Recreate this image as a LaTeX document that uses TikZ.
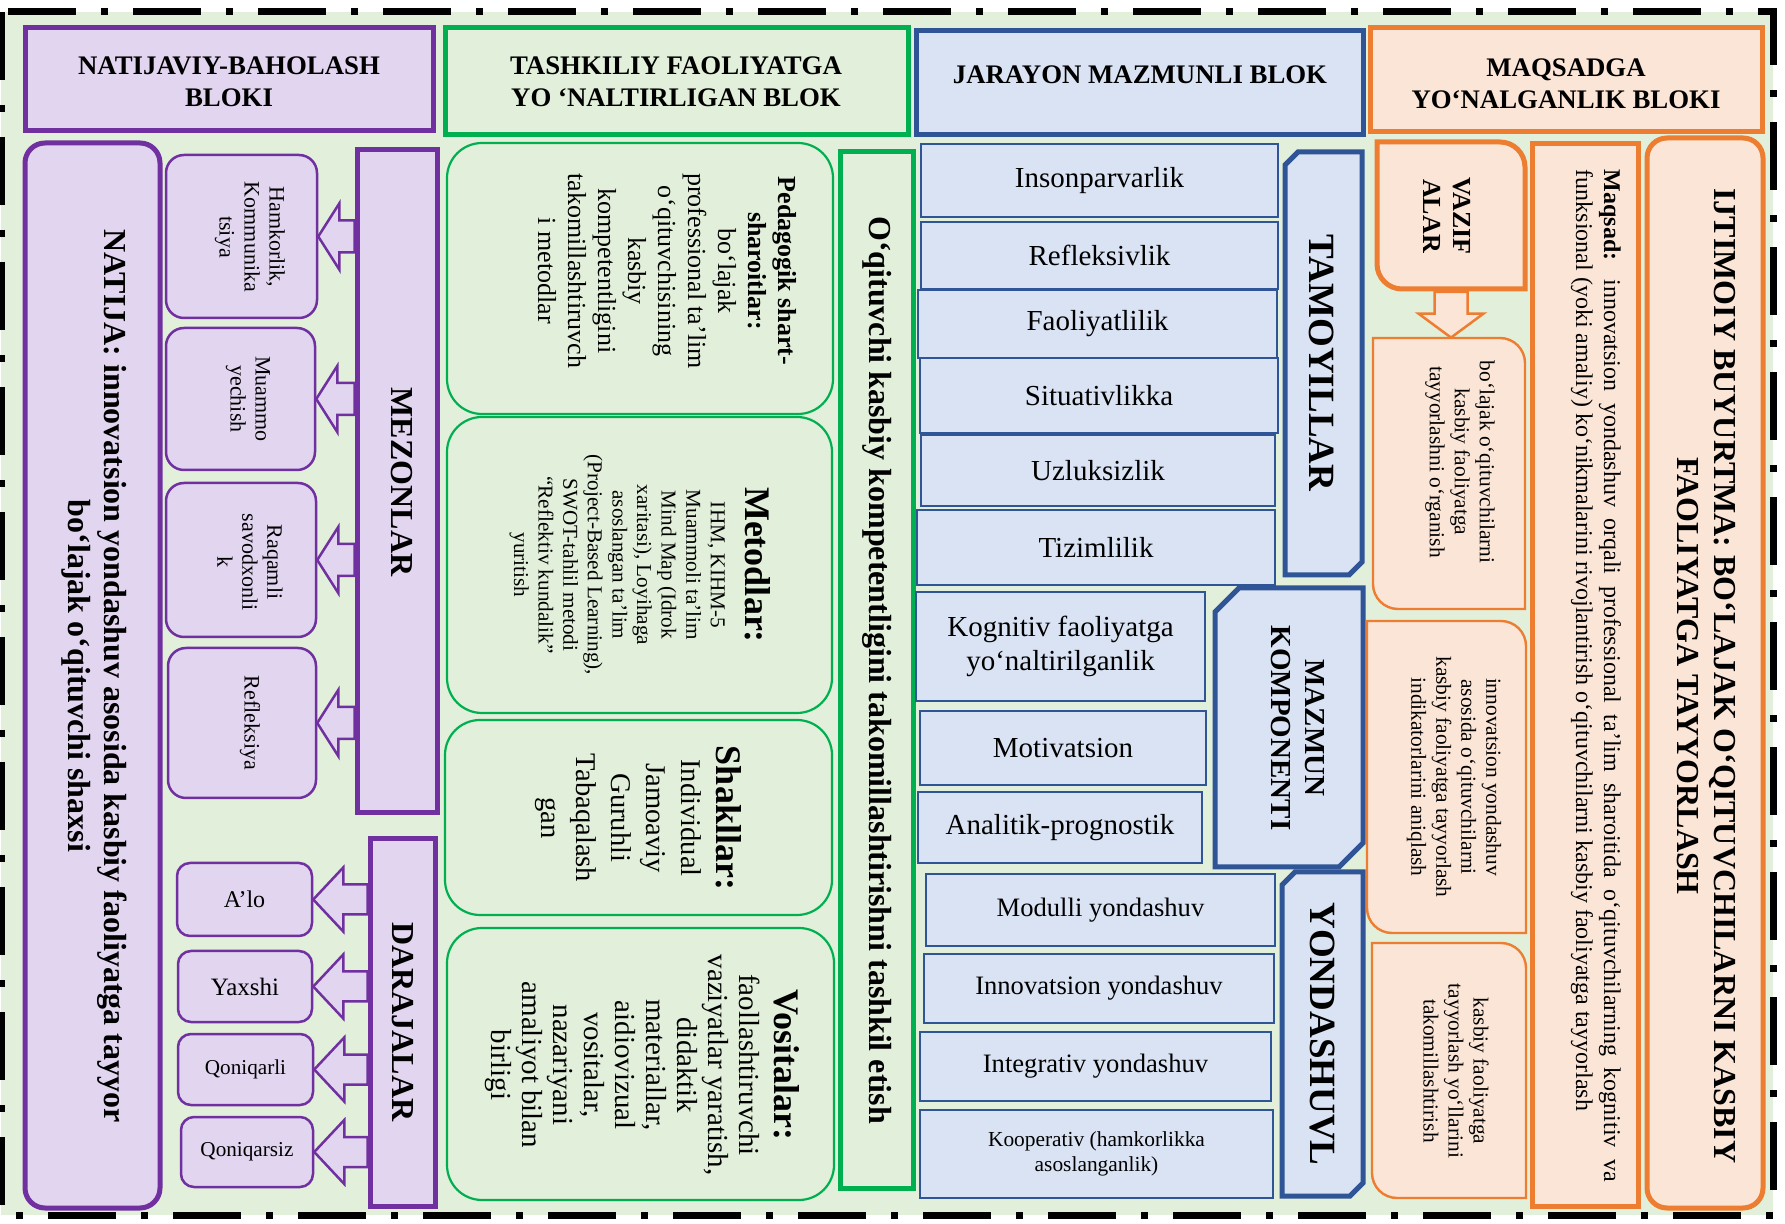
\documentclass[tikz,border=0pt]{standalone}
\usepackage{fontspec}
\setmainfont{Liberation Serif}
\usetikzlibrary{fit,calc}

\definecolor{bgg}{HTML}{E2EFDA}
\definecolor{purp}{HTML}{7030A0}
\definecolor{lav}{HTML}{E2D5F0}
\definecolor{grn}{HTML}{00B050}
\definecolor{blu}{HTML}{2F5597}
\definecolor{lblu}{HTML}{DAE3F3}
\definecolor{org}{HTML}{ED7D31}
\definecolor{peach}{HTML}{FBE5D6}

\newcommand\fs[2]{\fontsize{#1}{#2}\selectfont}

\tikzset{
  box/.style={inner sep=0pt},
  pthick/.style={box, draw=purp, fill=lav, line width=2.5pt},
  pthin/.style={box, draw=purp, fill=lav, line width=1.25pt, rounded corners=9pt},
  gthick/.style={box, draw=grn, line width=2.5pt},
  gthin/.style={box, draw=grn, line width=1.1pt, rounded corners=17.5pt},
  bthick/.style={box, draw=blu, fill=lblu, line width=2.5pt},
  bthin/.style={box, draw=blu, fill=lblu, line width=1.2pt},
  othick/.style={box, draw=org, fill=peach, line width=2.5pt},
  othin/.style={box, draw=org, fill=peach, line width=1.2pt},
  parrow/.style={draw=purp, fill=lav, line width=1.25pt},
  oarrow/.style={draw=org, fill=peach, line width=1.25pt},
  vtext/.style={rotate=-90, align=center, inner sep=0pt},
  htext/.style={align=center, inner sep=0pt},
}

% block arrow pointing left: from, to, head length, head half, shaft half
\newcommand\larrow[5]{%
  \filldraw[parrow] let \p1=(#1.west), \p2=(#2.east) in
    (\p2) -- (\x2+#3,\y2+#4) -- (\x2+#3,\y2+#5) -- (\x1,\y2+#5)
    -- (\x1,\y2-#5) -- (\x2+#3,\y2-#5) -- (\x2+#3,\y2-#4) -- cycle;}
% block arrow pointing down
\newcommand\darrow[2]{%
  \filldraw[oarrow] let \p1=(#1.south), \p2=(#2.north) in
    (\x1,\y2) -- (\x1-16.25pt,\y2+12pt) -- (\x1-8.25pt,\y2+12pt) -- (\x1-8.25pt,\y1-1.25pt)
    -- (\x1+8.25pt,\y1-1.25pt) -- (\x1+8.25pt,\y2+12pt) -- (\x1+16.25pt,\y2+12pt) -- cycle;}
% box with top left and bottom right corners cut
\newcommand\chamfer[6]{%
  \node[box, fit={(#2,#3) (#4,#5)}] (#1) {};
  \filldraw[bthick] ({#2+#6},#3) -- (#4,#3) -- (#4,{#5-#6}) -- ({#4-#6},#5)
    -- (#2,#5) -- (#2,{#3+#6}) -- cycle;}
% box with top right and bottom left corners rounded
\newcommand\rdbox[7]{%
  \node[box, fit={(#3,#4) (#5,#6)}] (#2) {};
  \filldraw[#1] (#3,#4) -- ({#5-#7},#4) arc[start angle=90,end angle=0,radius=#7*0.5pt]
    -- (#5,#6) -- ({#3+#7},#6) arc[start angle=270,end angle=180,radius=#7*0.5pt] -- cycle;}

\begin{document}
\begin{tikzpicture}[x=0.5pt,y=-0.5pt]
\useasboundingbox (0,0) rectangle (1785,1224);
\fill[bgg] (1,12) rectangle (1773,1215);
\draw[line width=3.5pt, dash pattern=on 34pt off 12.5pt on 3.5pt off 12.5pt] (1,12) rectangle (1773,1215);

% natijaviy-baholash bloki
\node[pthick, fit={(25,28) (433,131)}] (hnat) {};
\node[htext, font=\fs{13.4}{16}\bfseries] (hnatT) at (229,82) {NATIJAVIY-BAHOLASH\\BLOKI};
\node[pthick, rounded corners=10pt, fit={(25,143) (160,1208)}] (natija) {};
\node[vtext, font=\fs{16}{18}\bfseries] (natijaT) at (94,676) {NATIJA: innovatsion yondashuv asosida kasbiy faoliyatga tayyor\\bo‘lajak o‘qituvchi shaxsi};
\node[pthin, fit={(166,155) (317,318)}] (hk) {};
\node[pthin, fit={(166,328) (315,470)}] (mu) {};
\node[pthin, fit={(166,483) (316,637)}] (rq) {};
\node[pthin, fit={(168,648) (316,798)}] (rf) {};
\node[vtext, font=\fs{11}{12.5}] (hkT) at (250,237) {Hamkorlik,\\Kommunika\\tsiya};
\node[vtext, font=\fs{11}{12.5}] (muT) at (248,399) {Muammo\\yechish};
\node[vtext, font=\fs{11}{12.5}] (rqT) at (250,562) {Raqamli\\savodxonli\\k};
\node[vtext, font=\fs{11}{12.5}] (rfT) at (250,723) {Refleksiya};
\node[pthick, fit={(357,150) (437,813)}] (mez) {};
\node[vtext, font=\fs{16}{18}\bfseries] (mezT) at (402,482) {MEZONLAR};
\larrow{mez}{hk}{10.5pt}{16.5pt}{8pt}
\larrow{mez}{mu}{10.5pt}{16.5pt}{8pt}
\larrow{mez}{rq}{10.5pt}{16.5pt}{8pt}
\larrow{mez}{rf}{10.5pt}{16.5pt}{8pt}
\node[pthin, rounded corners=6.5pt, fit={(177,863) (312,936)}] (alo) {};
\node[pthin, rounded corners=6.5pt, fit={(178,951) (312,1022)}] (yax) {};
\node[pthin, rounded corners=6.5pt, fit={(178,1034) (313,1105)}] (qq) {};
\node[pthin, rounded corners=6.5pt, fit={(181,1117) (313,1187)}] (qs) {};
\node[htext, font=\fs{12}{14}] (aloT) at (alo) {A’lo};
\node[htext, font=\fs{12.5}{14}] (yaxT) at (yax) {Yaxshi};
\node[htext, font=\fs{10.6}{12}] (qqT) at (qq) {Qoniqarli};
\node[htext, font=\fs{10.6}{12}] (qsT) at (qs) {Qoniqarsiz};
\node[pthick, fit={(370,839) (435,1206)}] (dar) {};
\node[vtext, font=\fs{16}{18}\bfseries] (darT) at (403,1022) {DARAJALAR};
\larrow{dar}{alo}{15pt}{16pt}{7.5pt}
\larrow{dar}{yax}{15pt}{16pt}{7.5pt}
\larrow{dar}{qq}{15pt}{16pt}{7.5pt}
\larrow{dar}{qs}{15pt}{16pt}{7.5pt}

% tashkiliy faoliyatga yo'naltirilgan blok
\node[gthick, fit={(445,28) (908,135)}] (htash) {};
\node[htext, font=\fs{13.4}{16}\bfseries] (htashT) at (676,82) {TASHKILIY FAOLIYATGA\\YO ‘NALTIRLIGAN BLOK};
\node[gthin, fit={(447,143) (833,414)}] (ped) {};
\node[gthin, fit={(447,417) (832,713)}] (met) {};
\node[gthin, fit={(445,720) (832,915)}] (sha) {};
\node[gthin, fit={(447,928) (834,1200)}] (vos) {};
\node[vtext, font=\fs{13}{15}] (pedT) at (667,271) {\textbf{Pedagogik shart-}\\\textbf{sharoitlar:}\\bo‘lajak\\professional ta’lim\\o‘qituvchisining\\kasbiy\\kompetentligini\\takomillashtiruvch\\i metodlar};
\node[vtext, font=\fs{10.6}{12.3}] (metT) at (640,565) {{\fs{18}{21}\bfseries Metodlar:}\\[5pt]IHM, KIHM-5\\Muammoli ta’lim\\Mind Map (Idrok\\xaritasi), Loyihaga\\asoslangan ta’lim\\(Project-Based Learning),\\SWOT-tahlil metodi\\“Reflektiv kundalik”\\yuritish};
\node[vtext, font=\fs{14.3}{17.5}] (shaT) at (638,818) {{\fs{18}{21}\bfseries Shakllar:}\\Individual\\Jamoaviy\\Guruhli\\Tabaqalash\\gan};
\node[vtext, font=\fs{14.5}{15.5}] (vosT) at (642,1065) {{\fs{18}{21}\bfseries Vositalar:}\\[2pt]faollashtiruvchi\\vaziyatlar yaratish,\\didaktik\\materiallar,\\aidiovizual\\vositalar,\\nazariyani\\amaliyot bilan\\birligi};
\node[gthick, fit={(840,152) (913,1188)}] (oq) {};
\node[vtext, font=\fs{16}{18}\bfseries] (oqT) at (877,670) {O‘qituvchi kasbiy kompetentligini takomillashtirishni tashkil etish};

% jarayon mazmunli blok
\node[bthick, fit={(916,31) (1363,135)}] (hjar) {};
\node[htext, font=\fs{13.4}{16}\bfseries] (hjarT) at (1140,75) {JARAYON MAZMUNLI BLOK};
\node[bthin, fit={(921,144) (1278,217)}] (t1) {};
\node[bthin, fit={(921,222) (1278,289)}] (t2) {};
\node[bthin, fit={(918,290) (1277,358)}] (t3) {};
\node[bthin, fit={(920,358) (1278,433)}] (t4) {};
\node[bthin, fit={(921,435) (1275,506)}] (t5) {};
\node[bthin, fit={(917,510) (1275,585)}] (t6) {};
\node[htext, font=\fs{14.5}{17}] (t1T) at (t1) {Insonparvarlik};
\node[htext, font=\fs{14.5}{17}] (t2T) at (t2) {Refleksivlik};
\node[htext, font=\fs{14.5}{17}] (t3T) at (t3) {Faoliyatlilik};
\node[htext, font=\fs{14.5}{17}] (t4T) at (t4) {Situativlikka};
\node[htext, font=\fs{14.5}{17}] (t5T) at (t5) {Uzluksizlik};
\node[htext, font=\fs{14.5}{17}] (t6T) at (t6) {Tizimlilik};
\chamfer{tam}{1285}{152}{1362}{575}{13}
\node[vtext, font=\fs{18.5}{21}\bfseries] (tamT) at (1322,363) {TAMOYILLAR};
\node[bthin, fit={(916,592) (1205,701)}] (k1) {};
\node[bthin, fit={(920,711) (1206,785)}] (k2) {};
\node[bthin, fit={(918,792) (1202,863)}] (k3) {};
\node[htext, font=\fs{14.5}{17}] (k1T) at (k1) {Kognitiv faoliyatga\\yo‘naltirilganlik};
\node[htext, font=\fs{14.5}{17}] (k2T) at (k2) {Motivatsion};
\node[htext, font=\fs{14.5}{17}] (k3T) at (k3) {Analitik-prognostik};
\chamfer{maz}{1215}{588}{1363}{867}{24}
\node[vtext, font=\fs{14.5}{17}\bfseries] (mazT) at (1298,728) {MAZMUN\\KOMPONENTI};
\node[bthin, fit={(926,874) (1275,946)}] (y1) {};
\node[bthin, fit={(924,954) (1274,1023)}] (y2) {};
\node[bthin, fit={(920,1032) (1271,1101)}] (y3) {};
\node[bthin, fit={(920,1110) (1273,1198)}] (y4) {};
\node[htext, font=\fs{13.3}{15}] (y1T) at (y1) {Modulli yondashuv};
\node[htext, font=\fs{13.3}{15}] (y2T) at (y2) {Innovatsion yondashuv};
\node[htext, font=\fs{13.3}{15}] (y3T) at (y3) {Integrativ yondashuv};
\node[htext, font=\fs{10.7}{12.5}] (y4T) at (y4) {Kooperativ (hamkorlikka\\asoslanganlik)};
\chamfer{yon}{1282}{872}{1363}{1196}{13}
\node[vtext, font=\fs{18.5}{21}\bfseries] (yonT) at (1322,1034) {YONDASHUVL};

% maqsadga yo'nalganlik bloki
\node[othick, fit={(1370,28) (1762,132)}] (hmaq) {};
\node[htext, font=\fs{13.4}{16}\bfseries] (hmaqT) at (1566,84) {MAQSADGA\\YO‘NALGANLIK BLOKI};
\rdbox{othick}{vaz}{1377}{142}{1525}{289}{25}
\node[vtext, font=\fs{13}{15}\bfseries] (vazT) at (1447,216) {VAZIF\\ALAR};
\rdbox{othin}{tb1}{1373}{338}{1525}{609}{25}
\rdbox{othin}{tb2}{1367}{621}{1526}{933}{25}
\rdbox{othin}{tb3}{1372}{943}{1526}{1198}{25}
\darrow{vaz}{tb1}
\node[vtext, font=\fs{10.7}{12.5}] (tb1T) at (1460,462) {bo‘lajak o‘qituvchilarni\\kasbiy faoliyatga\\tayyorlashni o‘rganish};
\node[vtext, font=\fs{10.7}{12.5}] (tb2T) at (1454,777) {innovatsion yondashuv\\asosida o‘qituvchilarni\\kasbiy faoliyatga tayyorlash\\indikatorlarini aniqlash};
\node[vtext, font=\fs{10.7}{12.5}] (tb3T) at (1456,1071) {kasbiy faoliyatga\\tayyorlash yo‘llarini\\takomillashtirish};
\node[othick, fit={(1532,144) (1638,1206)}] (maq) {};
\node[vtext, align=left, font=\fs{12}{14}] (maqT) at (1596,676) {\makebox[506pt][s]{\textbf{Maqsad:} innovatsion yondashuv orqali professional ta’lim sharoitida o‘qituvchilarning kognitiv va}\\funksional (yoki amaliy) ko‘nikmalarini rivojlantirish o‘qituvchilarni kasbiy faoliyatga tayyorlash};
\node[othick, rounded corners=10pt, fit={(1647,138) (1763,1208)}] (ijt) {};
\node[vtext, font=\fs{16}{18.5}\bfseries] (ijtT) at (1706,676) {IJTIMOIY BUYURTMA: BO‘LAJAK O‘QITUVCHILARNI KASBIY\\FAOLIYATGA TAYYORLASH};
\end{tikzpicture}
\end{document}
